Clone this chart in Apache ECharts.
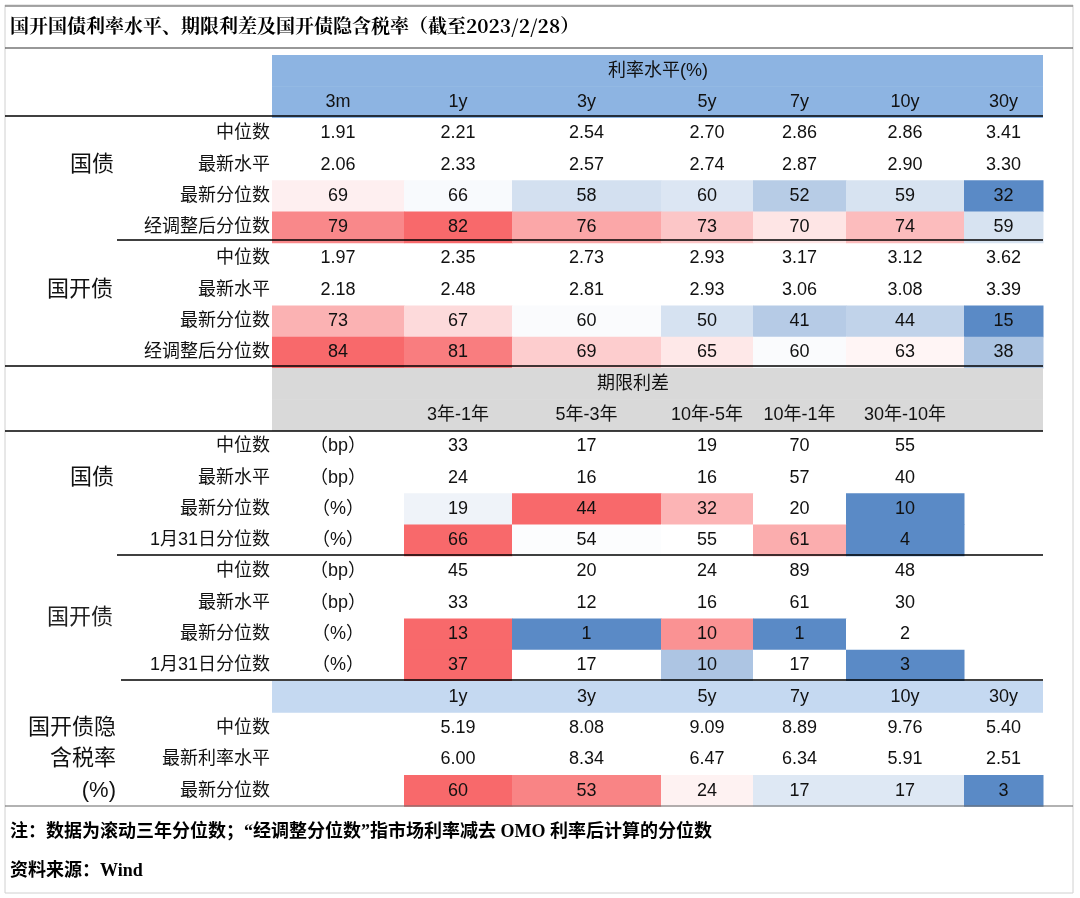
<!DOCTYPE html><html><head><meta charset="utf-8">
<script src="https://cdn.jsdelivr.net/npm/echarts@6/dist/echarts.min.js"></script>
<style>html,body{margin:0;background:#fff}#c{width:1080px;height:898px}</style></head><body><div id="c"></div>
<script>
const rateTenors=['3m','1y','3y','5y','7y','10y','30y'];
const gzMedian=[1.91,2.21,2.54,2.70,2.86,2.86,3.41];
const gzLatest=[2.06,2.33,2.57,2.74,2.87,2.90,3.30];
const gzPct=[69,66,58,60,52,59,32];
const gzAdj=[79,82,76,73,70,74,59];
const gkMedian=[1.97,2.35,2.73,2.93,3.17,3.12,3.62];
const gkLatest=[2.18,2.48,2.81,2.93,3.06,3.08,3.39];
const gkPct=[73,67,60,50,41,44,15];
const gkAdj=[84,81,69,65,60,63,38];
const spreadNames=['3年-1年','5年-3年','10年-5年','10年-1年','30年-10年'];
const gzSpMed=[33,17,19,70,55], gzSpLat=[24,16,16,57,40], gzSpPct=[19,44,32,20,10], gzSpJan=[66,54,55,61,4];
const gkSpMed=[45,20,24,89,48], gkSpLat=[33,12,16,61,30], gkSpPct=[13,1,10,1,2], gkSpJan=[37,17,10,17,3];
const taxTenors=['1y','3y','5y','7y','10y','30y'];
const taxMed=[5.19,8.08,9.09,8.89,9.76,5.40];
const taxLat=[6.00,8.34,6.47,6.34,5.91,2.51];
const taxPct=[60,53,24,17,17,3];

// layout
const edges=[272,404,512,661,753,846,964,1043];
const TOP=55,RH=31.3;
const BLUE=[90,138,198],RED=[248,105,107];
function scale(vals){const s=vals.slice().sort((a,b)=>a-b),n=s.length,mn=s[0],mx=s[n-1];
 const m=n%2?s[(n-1)/2]:(s[n/2-1]+s[n/2])/2;
 return v=>{let c,t;if(v>=m){t=mx>m?(v-m)/(mx-m):0;c=RED}else{t=m>mn?(m-v)/(m-mn):0;c=BLUE}
 return 'rgb('+[0,1,2].map(i=>Math.round(255+(c[i]-255)*t)).join(',')+')';};}
const items=[];
function txt(col,row,text,opt){items.push(Object.assign({col,row,text},opt||{}));}
function band(row,c0,c1,fill){items.push({band:true,row,c0,c1,fill});}
band(0,0,7,'#8DB4E2');band(1,0,7,'#8DB4E2');
txt('mid',0,'利率水平(%)',{cx:658});
rateTenors.forEach((t,i)=>txt(i,1,t));
function rateBlock(r0,name,med,lat,pct,adj){
 const sc=scale(pct.concat(adj));
 txt('grp',r0+1,name);
 ['中位数','最新水平','最新分位数','经调整后分位数'].forEach((l,k)=>txt('lab',r0+k,l));
 med.forEach((v,i)=>txt(i,r0,v.toFixed(2)));
 lat.forEach((v,i)=>txt(i,r0+1,v.toFixed(2)));
 pct.forEach((v,i)=>txt(i,r0+2,String(v),{fill:sc(v)}));
 adj.forEach((v,i)=>txt(i,r0+3,String(v),{fill:sc(v)}));
}
rateBlock(2,'国债',gzMedian,gzLatest,gzPct,gzAdj);
rateBlock(6,'国开债',gkMedian,gkLatest,gkPct,gkAdj);
band(10,0,7,'#D9D9D9');band(11,0,7,'#D9D9D9');
txt('mid',10,'期限利差',{cx:633});
spreadNames.forEach((t,i)=>txt(i+1,11,t));
function spBlock(r0,name,med,lat,pct,jan,gy){
 txt('grp',r0+1,name,{gy});
 ['中位数','最新水平','最新分位数','1月31日分位数'].forEach((l,k)=>txt('lab',r0+k,l));
 ['（bp）','（bp）','（%）','（%）'].forEach((l,k)=>txt(0,r0+k,l));
 med.forEach((v,i)=>txt(i+1,r0,String(v)));
 lat.forEach((v,i)=>txt(i+1,r0+1,String(v)));
 const s1=scale(pct),s2=scale(jan);
 pct.forEach((v,i)=>txt(i+1,r0+2,String(v),{fill:s1(v)}));
 jan.forEach((v,i)=>txt(i+1,r0+3,String(v),{fill:s2(v)}));
}
spBlock(12,'国债',gzSpMed,gzSpLat,gzSpPct,gzSpJan);
spBlock(16,'国开债',gkSpMed,gkSpLat,gkSpPct,gkSpJan,17.5);
band(20,0,7,'#C5D9F1');
taxTenors.forEach((t,i)=>txt(i+1,20,t));
['中位数','最新利率水平','最新分位数'].forEach((l,k)=>txt('lab',21+k,l));
['国开债隐','含税率','(%)'].forEach((l,k)=>txt('grpR',21+k,l));
taxMed.forEach((v,i)=>txt(i+1,21,v.toFixed(2)));
taxLat.forEach((v,i)=>txt(i+1,22,v.toFixed(2)));
const st=scale(taxPct);
taxPct.forEach((v,i)=>txt(i+1,23,String(v),{fill:st(v)}));

const FONT='"Liberation Sans","Noto Sans CJK SC",sans-serif';
const chart=echarts.init(document.getElementById('c'));
function line(y,x0,x1,w,c){return {type:'line',shape:{x1:x0,y1:y,x2:x1,y2:y},style:{stroke:c||'#000',lineWidth:w||1.5},z:10};}
chart.setOption({
 animation:false,
 grid:{left:0,right:0,top:0,bottom:0},
 xAxis:{type:'value',min:0,max:1080,show:false},
 yAxis:{type:'value',min:0,max:898,inverse:true,show:false},
 graphic:[
  {type:'rect',shape:{x:5,y:5,width:1068,height:888},style:{fill:'none',stroke:'#d0d0d0',lineWidth:1}},
  line(6,5,1073,1.5,'#888'),
  {type:'text',style:{text:'国开国债利率水平、期限利差及国开债隐含税率（截至2023/2/28）',x:10,y:26,verticalAlign:'middle',font:'bold 19px "Noto Serif CJK SC","Noto Sans CJK SC",serif',fill:'#000'}},
  line(48,5,1073,1.2,'#333'),
  line(116,5,1043),line(240,117,1043),line(366,5,1043),line(431,5,1043),line(555,117,1043),line(680,121,1043),
  line(806,5,1073,1.2,'#666'),
  {type:'text',style:{text:'注：数据为滚动三年分位数；“经调整分位数”指市场利率减去 OMO 利率后计算的分位数',x:10,y:832,verticalAlign:'middle',font:'bold 18px "Liberation Serif","Noto Sans CJK SC",serif',fill:'#000'}},
  {type:'text',style:{text:'资料来源：Wind',x:10,y:871,verticalAlign:'middle',font:'bold 18px "Liberation Serif","Noto Sans CJK SC",serif',fill:'#000'}}
 ],
 series:[{type:'custom',coordinateSystem:'cartesian2d',data:items.map((d,i)=>[0,0,i]),
  renderItem:(params,api)=>{
   const d=items[api.value(2)];
   const yTop=TOP+d.row*RH;
   const p0=api.coord([0,yTop]),p1=api.coord([1,yTop+RH]);
   const y0=p0[1],h=p1[1]-p0[1],cy=y0+h/2;
   if(d.band){const a=api.coord([edges[d.c0],0])[0],b=api.coord([edges[d.c1],0])[0];
     return {type:'rect',shape:{x:a,y:y0,width:b-a,height:h+0.5},style:{fill:d.fill}};}
   const ch=[];let x,align='center',fs=18;
   if(typeof d.col==='number'){
     const a=api.coord([edges[d.col],0])[0],b=api.coord([edges[d.col+1],0])[0];
     if(d.fill) ch.push({type:'rect',shape:{x:a,y:y0,width:b-a+0.5,height:h+0.5},style:{fill:d.fill}});
     x=(a+b)/2;
   } else if(d.col==='lab'){x=api.coord([270,0])[0];align='right';}
   else if(d.col==='mid'){x=api.coord([d.cx,0])[0];}
   else if(d.col==='grp'){x=api.coord([d.text.length>2?80:92,0])[0];fs=22;
     if(d.gy!==undefined){ const yy=TOP+(d.gy+0.5)*RH; return {type:'text',style:{text:d.text,x,y:api.coord([0,yy])[1],align:'center',verticalAlign:'middle',font:fs+'px '+FONT,fill:'#222'}};}}
   else if(d.col==='grpR'){x=api.coord([116,0])[0];align='right';fs=22;}
   ch.push({type:'text',z2:5,style:{text:d.text,x,y:cy,align,verticalAlign:'middle',font:fs+'px '+FONT,fill:'#111'}});
   return {type:'group',children:ch};
  }}]
});
</script></body></html>
